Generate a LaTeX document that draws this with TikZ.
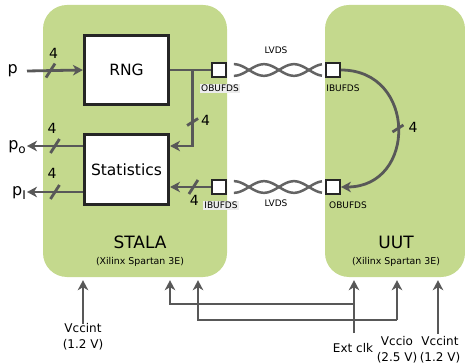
\documentclass[tikz,border=0pt]{standalone}
\usepackage{fontspec}
\setmainfont{DejaVu Sans}
\usetikzlibrary{positioning,arrows.meta}

\definecolor{fpgagreen}{RGB}{196,217,141}
\definecolor{wiregray}{RGB}{88,88,88}
\definecolor{pairgray}{RGB}{100,100,100}
\definecolor{tagbg}{RGB}{236,236,236}

\tikzset{
  fpga/.style={fill=fpgagreen, rounded corners=24pt, inner sep=0pt},
  block/.style={draw=black!85, line width=2.6pt, fill=white, minimum width=84.5pt,
    minimum height=69.5pt, font=\fontsize{15.5}{18}\selectfont},
  buf/.style={draw=black!85, line width=2.4pt, fill=white, minimum size=13.5pt, inner sep=0pt},
  wire/.style={draw=wiregray, line width=2.8pt},
  sig/.style={wire, -{Stealth[length=10pt,width=10.5pt,inset=3pt]}},
  twist/.style={draw=pairgray, line width=2.5pt},
  buslbl/.style={font=\fontsize{14}{16}\selectfont, inner sep=0pt},
  buftag/.style={font=\fontsize{9}{10}\selectfont, inner sep=1pt},
  title/.style={font=\fontsize{17}{20}\selectfont, inner sep=0pt},
  subtitle/.style={font=\fontsize{9.4}{11}\selectfont, inner sep=0pt},
  port/.style={font=\fontsize{16}{18}\selectfont, inner sep=1pt},
  pin/.style={font=\fontsize{12}{15.5}\selectfont, align=center, inner sep=0pt, anchor=north}
}

\newcommand{\busH}[1]{\draw[wire] ([shift={(-4.5,7)}]#1) -- ([shift={(4.5,-7)}]#1);}
\newcommand{\busV}[1]{\draw[wire] ([shift={(-5.5,3.5)}]#1) -- ([shift={(5.5,-3.5)}]#1);}
\newcommand{\portsub}[1]{\raisebox{-3.5pt}{\fontsize{12}{12}\selectfont #1}}

\begin{document}
\begin{tikzpicture}[x=1pt,y=-1pt]
  \useasboundingbox (0,0) rectangle (465,363);

  \node[fpga, minimum width=184pt, minimum height=272pt] (stala) at (135,141) {};
  \node[fpga, minimum width=140pt, minimum height=272pt] (uut) at (395,141) {};
  \node[title] at ([shift={(5,101)}]stala.center) {STALA};
  \node[subtitle] at ([shift={(5,121)}]stala.center) {(Xilinx Spartan 3E)};
  \node[title] at ([shift={(1,101)}]uut.center) {UUT};
  \node[subtitle] at ([shift={(1,121)}]uut.center) {(Xilinx Spartan 3E)};

  \node[block] (rng) at (126.5,70) {RNG};
  \node[block] (stat) at (126.5,169.5) {Statistics};

  \node[buf] (obufL) at (219,70) {};
  \node[buf] (ibufL) at (219,187) {};
  \node[buf] (ibufR) at (333,70) {};
  \node[buf] (obufR) at (333,187) {};
  \node[buftag, fill=tagbg, below=6pt of obufL, xshift=1pt] {OBUFDS};
  \node[buftag, fill=tagbg, below=6pt of ibufL, xshift=2pt] {IBUFDS};
  \node[buftag, below=6pt of ibufR, xshift=10pt] {IBUFDS};
  \node[buftag, below=6pt of obufR, xshift=15pt] {OBUFDS};

  \path (obufL) -- (ibufR) coordinate[midway] (pairA);
  \path (ibufL) -- (obufR) coordinate[midway] (pairB);
  \node[buftag, above=15pt of pairA] {LVDS};
  \node[buftag, below=12pt of pairB] {LVDS};
  \foreach \bf in {obufL, ibufL}{
    \begin{scope}[shift={(\bf.east)}, xshift=7pt]
      \draw[twist] plot[domain=0:88, samples=70, smooth] (\x,{5.8*cos(6*\x)});
      \draw[twist] plot[domain=0:88, samples=70, smooth] (\x,{-5.8*cos(6*\x)});
    \end{scope}
  }

  \node[port, anchor=east] (pin) at (19,71) {p};
  \node[port, anchor=east] (po) at (27,147) {p\portsub{o}};
  \node[port, anchor=east] (pi) at (27,193) {p\portsub{I}};

  \draw[sig] ([xshift=8pt]pin.east) -- (rng.west) coordinate[pos=0.42] (t1);
  \draw[sig] ([yshift=23.5pt]stat.west) coordinate (so) -- (so -| po.east) coordinate[pos=0.5] (t2);
  \draw[sig] ([yshift=-22.5pt]stat.west) coordinate (si) -- (si -| pi.east) coordinate[pos=0.5] (t3);

  \draw[wire] (rng.east) -- (obufL.west) coordinate[pos=0.55] (brk);
  \draw[sig] (brk) |- ([yshift=23.5pt]stat.east);
  \coordinate (t4) at ([shift={(0,52)}]brk);
  \draw[sig] (ibufL.west) -- ([yshift=-17.5pt]stat.east) coordinate[pos=0.43] (t5);

  \draw[sig] (ibufR.east) .. controls +(76,0) and +(76,0) .. (obufR.east) coordinate[pos=0.5] (t6);

  \busH{t1} \busH{t2} \busH{t3} \busV{t4} \busH{t5} \busV{t6}
  \node[buslbl] at ([shift={(3,-17)}]t1) {4};
  \node[buslbl] at ([shift={(-3,-18)}]t2) {4};
  \node[buslbl] at ([shift={(-3,-19)}]t3) {4};
  \node[buslbl] at ([shift={(13,-2)}]t4) {4};
  \node[buslbl] at ([shift={(1,13)}]t5) {4};
  \node[buslbl] at ([shift={(15,-1)}]t6) {4};

  \node[pin] (vccA) at (83,323.5) {Vccint\\(1.2 V)};
  \node[pin] (eclk) at (353,343) {Ext clk};
  \node[pin] (vio) at (397,336.5) {Vccio\\(2.5 V)};
  \node[pin] (vccB) at (440,336.5) {Vccint\\(1.2 V)};

  \draw[sig, shorten >=3pt] (vccA.north) -- (vccA.north |- stala.south);
  \coordinate (ck) at ([shift={(1,-39)}]eclk.north);
  \draw[sig, shorten >=3pt] ([shift={(1,-10)}]eclk.north) -- (ck |- uut.south);
  \draw[sig, shorten >=3pt] (ck) -| ([xshift=35pt]stala.south);
  \coordinate (io) at ([yshift=16.5pt]vio.north);
  \draw[sig, shorten >=3pt] (io) -- (io |- uut.south);
  \draw[sig, shorten >=3pt] (io) -| ([xshift=63pt]stala.south);
  \draw[sig, shorten >=3pt] ([shift={(-2,-3)}]vccB.north) -- ([xshift=-2pt]vccB.north |- uut.south);
\end{tikzpicture}
\end{document}
